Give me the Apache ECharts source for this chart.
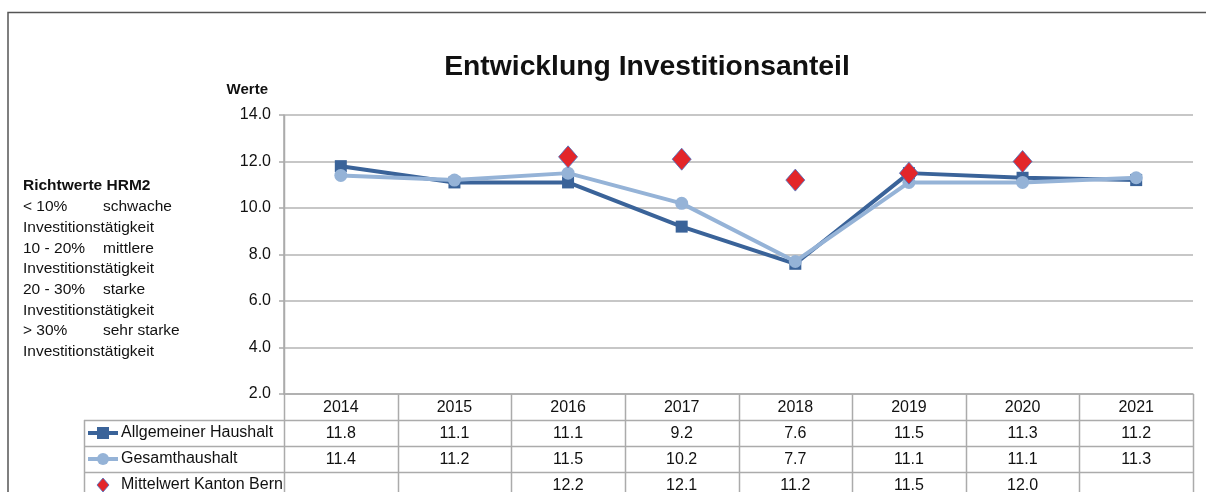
<!DOCTYPE html>
<html><head><meta charset="utf-8">
<script src="https://cdn.jsdelivr.net/npm/echarts@6/dist/echarts.min.js"></script>
<style>html,body{margin:0;padding:0;background:#fff}#c{width:1206px;height:492px}</style>
</head><body><div id="c"></div>
<script>
const years = ['2014','2015','2016','2017','2018','2019','2020','2021'];
const allgemeiner = [11.8, 11.1, 11.1, 9.2, 7.6, 11.5, 11.3, 11.2];
const gesamt = [11.4, 11.2, 11.5, 10.2, 7.7, 11.1, 11.1, 11.3];
const mittelwert = [null, null, 12.2, 12.1, 11.2, 11.5, 12.0, null];
const seriesNames = ['Allgemeiner Haushalt', 'Gesamthaushalt', 'Mittelwert Kanton Bern'];
const yTicks = [2, 4, 6, 8, 10, 12, 14];
const noteLines = [
  ['< 10%', 'schwache'], ['Investitionstätigkeit', ''],
  ['10 - 20%', 'mittlere'], ['Investitionstätigkeit', ''],
  ['20 - 30%', 'starke'], ['Investitionstätigkeit', ''],
  ['> 30%', 'sehr starke'], ['Investitionstätigkeit', '']
];

const FONT = '"Liberation Sans", Arial, sans-serif';
const DARK = '#3A6399', LIGHT = '#95B3D7', RED = '#E3262A';
const GL = 284, GR = 1193, GT = 115, GB = 394;
const ROW = 26;
const chart = echarts.init(document.getElementById('c'), null, {renderer: 'canvas'});
const fmt = v => (v == null ? ' ' : v.toFixed(1));

const graphics = [];
graphics.push({type:'polyline', shape:{points:[[8,500],[8,12.5],[1210,12.5]]}, style:{stroke:'#555', lineWidth:1.5, fill:null}});
graphics.push({type:'text', left:23, top:178, style:{text:'Richtwerte HRM2', font:'bold 15.5px '+FONT, fill:'#111'}});
noteLines.forEach((l, i) => {
  const y = 199 + i * 20.7;
  graphics.push({type:'text', left:23, top:y, style:{text:l[0], font:'15.5px '+FONT, fill:'#111'}});
  if (l[1]) graphics.push({type:'text', left:103, top:y, style:{text:l[1], font:'15.5px '+FONT, fill:'#111'}});
});
const colW = (GR - GL) / years.length;
const tableStroke = {stroke:'#ABABAB', lineWidth:1.5};
for (let i = 0; i <= years.length; i++) {
  const x = Math.round(GL + i * colW) + 0.5;
  graphics.push({type:'line', shape:{x1:x, y1: i === 0 ? GT : GB, x2:x, y2:GB + 4*ROW + 10}, style:tableStroke});
}
graphics.push({type:'line', shape:{x1:84.5, y1:GB+ROW, x2:84.5, y2:GB+4*ROW+10}, style:tableStroke});
for (let r = 1; r <= 3; r++) {
  const y = GB + r * ROW + 0.5;
  graphics.push({type:'line', shape:{x1:84, y1:y, x2:GR, y2:y}, style:tableStroke});
}
const ky1 = GB + ROW * 1.5, ky2 = GB + ROW * 2.5, ky3 = GB + ROW * 3.5;
graphics.push({type:'line', shape:{x1:88, y1:ky1, x2:118, y2:ky1}, style:{stroke:DARK, lineWidth:4}});
graphics.push({type:'rect', shape:{x:97, y:ky1-6, width:12, height:12}, style:{fill:DARK}});
graphics.push({type:'line', shape:{x1:88, y1:ky2, x2:118, y2:ky2}, style:{stroke:LIGHT, lineWidth:4}});
graphics.push({type:'circle', shape:{cx:103, cy:ky2, r:6}, style:{fill:LIGHT}});
graphics.push({type:'polygon', shape:{points:[[103,ky3-7],[109,ky3],[103,ky3+7],[97,ky3]]}, style:{fill:RED, stroke:'#4472C4', lineWidth:0.8}});
seriesNames.forEach((n, i) => {
  graphics.push({type:'text', left:121, top:GB + ROW*(i+1.5) - 8, style:{text:n, font:'16px '+FONT, fill:'#111'}});
});

chart.setOption({
  animation: false,
  title: {text:'Entwicklung Investitionsanteil', left:642, top:48, textAlign:'center',
    textStyle:{fontFamily:FONT, fontWeight:'bold', fontSize:28.3, color:'#111'}},
  grid: {left:GL, right:1206-GR, top:GT, bottom:492-GB, containLabel:false, outerBoundsMode:'none'},
  xAxis: {type:'category', data:years, boundaryGap:true,
    axisLine:{show:true, lineStyle:{color:'#ABABAB', width:1.5}},
    axisTick:{show:false},
    axisLabel:{margin:1, interval:0, fontFamily:FONT, fontSize:16, color:'#111', lineHeight:ROW,
      formatter:(v, i) => v + '\n' + fmt(allgemeiner[i]) + '\n' + fmt(gesamt[i]) + '\n' + fmt(mittelwert[i])}},
  yAxis: {type:'value', min:yTicks[0], max:yTicks[yTicks.length-1], interval:2,
    name:'Werte', nameLocation:'end', nameGap:18,
    nameTextStyle:{fontFamily:FONT, fontWeight:'bold', fontSize:15, color:'#111', align:'right', padding:[0,16,0,0]},
    axisLine:{show:true, lineStyle:{color:'#ABABAB', width:1.5}},
    axisTick:{show:true, length:5, lineStyle:{color:'#ABABAB', width:1.5}},
    splitLine:{show:true, lineStyle:{color:'#B4B4B4', width:1.5}},
    axisLabel:{margin:13, fontFamily:FONT, fontSize:16, color:'#111', formatter:v => v.toFixed(1)}},
  series: [
    {name:seriesNames[0], type:'line', data:allgemeiner, symbol:'rect', symbolSize:12, z:2,
      lineStyle:{color:DARK, width:4}, itemStyle:{color:DARK}},
    {name:seriesNames[1], type:'line', data:gesamt, symbol:'circle', symbolSize:13, z:3,
      lineStyle:{color:LIGHT, width:4}, itemStyle:{color:LIGHT}},
    {name:seriesNames[2], type:'scatter', data:mittelwert, symbol:'diamond', symbolSize:[19,22], z:4,
      itemStyle:{color:RED, opacity:1, borderColor:'#4472C4', borderWidth:0.8}}
  ],
  graphic: graphics
});
</script></body></html>
